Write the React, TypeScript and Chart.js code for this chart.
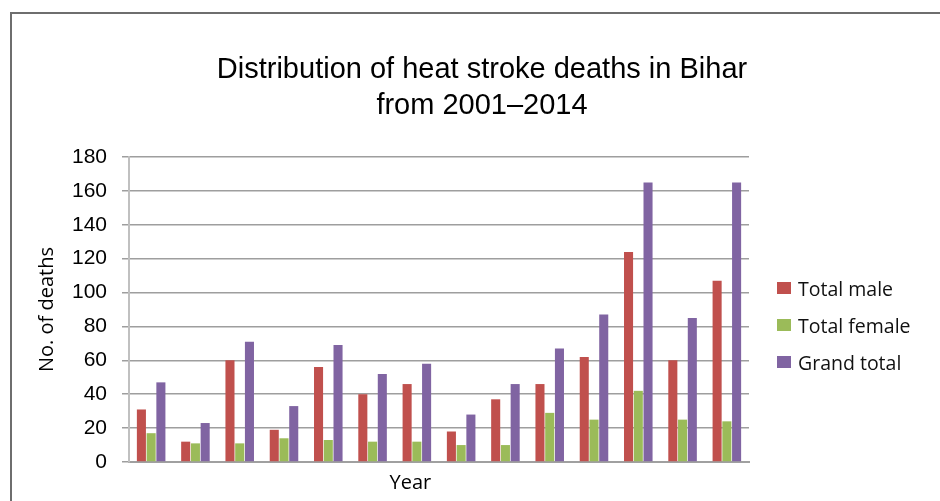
import React, { useEffect, useRef } from "react";
import { Chart, registerables } from "chart.js";

Chart.register(...registerables);

const years = ["2001", "2002", "2003", "2004", "2005", "2006", "2007", "2008", "2009", "2010", "2011", "2012", "2013", "2014"];
const totalMale = [31, 12, 60, 19, 56, 40, 46, 18, 37, 46, 62, 124, 60, 107];
const totalFemale = [17, 11, 11, 14, 13, 12, 12, 10, 10, 29, 25, 42, 25, 24];
const grandTotal = [47, 23, 71, 33, 69, 52, 58, 28, 46, 67, 87, 165, 85, 165];
const seriesNames = ["Total male", "Total female", "Grand total"];
const seriesColors = ["#C0504D", "#9BBB59", "#8064A2"];
const titleLines = ["Distribution of heat stroke deaths in Bihar", "from 2001\u20132014"];
const yTitle = "No. of deaths";
const xTitle = "Year";

const legendPlugin = {
  id: "sideLegend",
  afterDraw(chart: any) {
    const ctx = chart.ctx;
    const area = chart.chartArea;
    const x0 = area.right + 28;
    const yStart = 282;
    const step = 37;
    ctx.save();
    ctx.font = "19.5px 'Open Sans'";
    ctx.textBaseline = "middle";
    ctx.textAlign = "left";
    chart.data.datasets.forEach((ds: any, i: number) => {
      const y = yStart + i * step;
      ctx.fillStyle = ds.backgroundColor;
      ctx.fillRect(x0, y, 14, 12);
      ctx.fillStyle = "#111";
      ctx.fillText(ds.label, x0 + 21, y + 8);
    });
    ctx.restore();
  },
};

export default function App() {
  const ref = useRef<HTMLCanvasElement>(null);
  useEffect(() => {
    if (!ref.current) return;
    const values = [totalMale, totalFemale, grandTotal];
    const chart = new Chart(ref.current, {
      type: "bar",
      data: {
        labels: years,
        datasets: values.map((v, i) => ({
          label: seriesNames[i],
          data: v,
          backgroundColor: seriesColors[i],
          borderWidth: 0,
          categoryPercentage: 0.66,
          barPercentage: 0.93,
        })),
      },
      options: {
        responsive: false,
        animation: false,
        layout: { padding: 0 },
        plugins: {
          legend: { display: false },
          tooltip: { enabled: false },
          title: {
            display: true,
            text: titleLines,
            color: "#000",
            font: { family: "'Liberation Sans', Arial, sans-serif", size: 29, weight: "normal", lineHeight: "36px" },
            padding: { top: 52, bottom: 33 },
          },
        },
        scales: {
          x: {
            type: "category",
            ticks: { display: false },
            grid: { display: false },
            border: { display: true, color: "#a0a0a0", width: 2 },
            title: {
              display: true,
              text: xTitle + "           ",
              color: "#000",
              font: { family: "'Open Sans'", size: 20 },
              padding: { top: 4, bottom: 6 },
            },
            afterFit: (s: any) => {
              s.height = 39;
            },
          },
          y: {
            type: "linear",
            position: "left",
            min: 0,
            max: 180,
            ticks: {
              stepSize: 20,
              color: "#000",
              padding: 15,
              font: { family: "'Liberation Sans', Arial, sans-serif", size: 21 },
            },
            grid: { color: "#9e9e9e", lineWidth: 1.5, drawTicks: true, tickLength: 7, tickColor: "#9e9e9e" },
            border: { display: true, color: "#c0c0c0", width: 2 },
            title: {
              display: true,
              text: yTitle,
              color: "#000",
              font: { family: "'Open Sans'", size: 20 },
              padding: { top: 35, bottom: 4 },
            },
            afterFit: (s: any) => {
              s.width = 129;
            },
          },
          yR: {
            type: "linear",
            position: "right",
            display: true,
            ticks: { display: false },
            grid: { display: false },
            border: { display: false },
            afterFit: (s: any) => {
              s.width = 215;
            },
          },
        },
      },
      plugins: [legendPlugin],
    });
    return () => chart.destroy();
  }, []);

  return (
    <div>
      <div
        style={{
          position: "fixed",
          left: 10,
          top: 12,
          width: 2000,
          height: 2000,
          borderLeft: "2px solid #6e6e6e",
          borderTop: "2px solid #6e6e6e",
          boxSizing: "border-box",
        }}
      />
      <div style={{ position: "fixed", left: 0, top: 0, width: 940, height: 501, overflow: "hidden" }}>
        <canvas ref={ref} width={964} height={501} style={{ display: "block" }} />
      </div>
    </div>
  );
}
